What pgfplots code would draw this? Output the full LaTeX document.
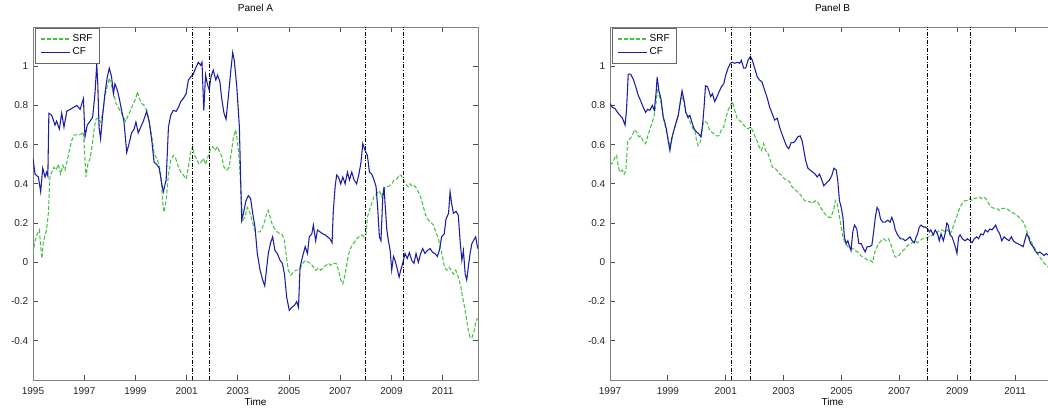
\documentclass[border=0pt]{standalone}
\usepackage{pgfplots}
\pgfplotsset{compat=1.18}
\usepackage{pgfplotstable}
\usepackage{fontspec}
\setmainfont{Liberation Sans}
\definecolor{srfgreen}{RGB}{70,195,70}
\definecolor{cfblue}{RGB}{28,28,165}

\pgfplotstableread{
x y
1995.00 0.53
1995.08 0.45
1995.21 0.435
1995.30 0.36
1995.38 0.48
1995.47 0.435
1995.53 0.46
1995.58 0.44
1995.62 0.76
1995.73 0.75
1995.86 0.70
1995.92 0.72
1996.03 0.68
1996.12 0.76
1996.21 0.69
1996.32 0.77
1996.45 0.78
1996.58 0.79
1996.71 0.80
1996.84 0.78
1996.97 0.835
1997.03 0.64
1997.12 0.70
1997.23 0.72
1997.33 0.74
1997.42 0.86
1997.49 1.01
1997.53 0.91
1997.58 0.69
1997.64 0.63
1997.72 0.75
1997.81 0.86
1997.90 0.945
1997.98 0.99
1998.07 0.945
1998.14 0.86
1998.20 0.91
1998.29 0.88
1998.37 0.835
1998.46 0.775
1998.55 0.72
1998.66 0.56
1998.76 0.61
1998.85 0.66
1998.95 0.68
1999.02 0.715
1999.11 0.66
1999.21 0.69
1999.31 0.72
1999.44 0.77
1999.54 0.715
1999.64 0.62
1999.73 0.51
1999.83 0.50
1999.93 0.48
2000.03 0.40
2000.09 0.36
2000.20 0.42
2000.29 0.69
2000.38 0.75
2000.48 0.775
2000.59 0.77
2000.68 0.79
2000.77 0.82
2000.87 0.835
2000.98 0.86
2001.07 0.93
2001.16 0.945
2001.26 0.96
2001.35 0.99
2001.46 1.02
2001.55 1.005
2001.60 1.02
2001.67 0.775
2001.74 0.955
2001.81 0.91
2001.88 0.88
2001.95 0.945
2002.04 0.98
2002.14 0.93
2002.21 0.955
2002.30 0.92
2002.37 0.835
2002.46 0.76
2002.54 0.73
2002.63 0.845
2002.72 0.97
2002.80 1.07
2002.86 1.03
2002.96 0.895
2003.06 0.69
2003.15 0.215
2003.22 0.25
2003.32 0.315
2003.41 0.34
2003.50 0.325
2003.58 0.25
2003.67 0.18
2003.76 0.045
2003.87 -0.04
2003.97 -0.09
2004.05 -0.12
2004.13 -0.025
2004.19 0.045
2004.28 0.10
2004.36 0.13
2004.45 0.06
2004.54 0.045
2004.65 0.01
2004.74 -0.005
2004.82 -0.06
2004.91 -0.18
2005.01 -0.245
2005.10 -0.23
2005.21 -0.22
2005.30 -0.20
2005.37 -0.23
2005.43 -0.025
2005.53 0.03
2005.63 0.08
2005.72 0.045
2005.79 0.13
2005.89 0.145
2005.95 0.19
2006.04 0.11
2006.11 0.165
2006.21 0.155
2006.32 0.145
2006.41 0.14
2006.50 0.13
2006.60 0.12
2006.68 0.10
2006.73 0.265
2006.80 0.385
2006.86 0.445
2006.93 0.435
2007.02 0.40
2007.10 0.435
2007.19 0.40
2007.28 0.46
2007.36 0.42
2007.45 0.46
2007.54 0.42
2007.64 0.40
2007.73 0.45
2007.81 0.51
2007.88 0.605
2007.97 0.57
2008.06 0.545
2008.14 0.46
2008.23 0.45
2008.32 0.42
2008.40 0.385
2008.46 0.28
2008.53 0.13
2008.59 0.11
2008.66 0.33
2008.71 0.385
2008.76 0.28
2008.82 0.165
2008.88 0.11
2008.95 0.06
2009.01 -0.04
2009.08 0.03
2009.14 0.01
2009.21 -0.025
2009.30 -0.075
2009.36 -0.04
2009.44 -0.005
2009.53 0.045
2009.62 0.02
2009.70 0.05
2009.79 0.01
2009.88 -0.005
2009.96 0.045
2010.05 0.00
2010.14 0.045
2010.22 0.07
2010.31 0.045
2010.40 0.06
2010.51 0.07
2010.61 0.05
2010.70 0.045
2010.79 0.03
2010.87 0.06
2010.96 0.13
2011.06 0.145
2011.13 0.22
2011.23 0.25
2011.29 0.36
2011.35 0.30
2011.42 0.25
2011.52 0.26
2011.61 0.24
2011.68 0.11
2011.75 0.01
2011.81 0.06
2011.88 -0.06
2011.94 -0.09
2012.00 -0.025
2012.07 0.045
2012.14 0.095
2012.20 0.11
2012.29 0.13
2012.37 0.07
}\cfA

\pgfplotstableread{
x y
1995.00 0.045
1995.08 0.11
1995.17 0.145
1995.25 0.165
1995.30 0.08
1995.35 0.02
1995.40 0.10
1995.47 0.14
1995.53 0.165
1995.60 0.25
1995.66 0.435
1995.73 0.46
1995.82 0.485
1995.90 0.47
1995.99 0.50
1996.08 0.45
1996.16 0.495
1996.25 0.47
1996.34 0.52
1996.42 0.57
1996.51 0.62
1996.60 0.65
1996.71 0.65
1996.81 0.65
1996.90 0.655
1996.97 0.665
1997.01 0.57
1997.07 0.435
1997.14 0.50
1997.23 0.53
1997.32 0.605
1997.40 0.69
1997.46 0.73
1997.55 0.735
1997.64 0.715
1997.72 0.76
1997.81 0.845
1997.90 0.90
1997.98 0.94
1998.07 0.90
1998.16 0.86
1998.24 0.81
1998.33 0.79
1998.42 0.77
1998.53 0.74
1998.62 0.72
1998.72 0.75
1998.81 0.775
1998.92 0.81
1999.01 0.835
1999.08 0.87
1999.15 0.835
1999.25 0.81
1999.34 0.80
1999.44 0.775
1999.53 0.725
1999.64 0.64
1999.73 0.555
1999.83 0.53
1999.92 0.50
2000.00 0.435
2000.07 0.30
2000.12 0.255
2000.20 0.315
2000.29 0.45
2000.38 0.52
2000.48 0.545
2000.57 0.53
2000.66 0.495
2000.77 0.46
2000.87 0.445
2000.98 0.425
2001.07 0.485
2001.16 0.565
2001.24 0.59
2001.30 0.545
2001.39 0.53
2001.48 0.50
2001.56 0.51
2001.65 0.53
2001.74 0.50
2001.85 0.545
2001.94 0.58
2002.02 0.59
2002.11 0.57
2002.20 0.59
2002.28 0.565
2002.37 0.54
2002.46 0.485
2002.57 0.47
2002.66 0.485
2002.74 0.555
2002.83 0.64
2002.92 0.675
2002.98 0.62
2003.06 0.52
2003.13 0.335
2003.19 0.215
2003.28 0.23
2003.37 0.28
2003.48 0.25
2003.58 0.20
2003.67 0.16
2003.76 0.155
2003.87 0.155
2003.97 0.18
2004.06 0.215
2004.13 0.25
2004.19 0.265
2004.26 0.23
2004.35 0.19
2004.45 0.17
2004.54 0.155
2004.65 0.145
2004.74 0.14
2004.82 0.11
2004.88 0.045
2004.97 -0.04
2005.07 -0.065
2005.17 -0.05
2005.27 -0.04
2005.37 -0.04
2005.46 -0.025
2005.56 0.00
2005.65 0.01
2005.76 0.00
2005.85 -0.005
2005.95 -0.025
2006.04 -0.04
2006.15 -0.03
2006.24 -0.04
2006.34 -0.025
2006.45 -0.015
2006.54 -0.005
2006.63 -0.015
2006.73 -0.005
2006.84 -0.005
2006.93 -0.04
2007.02 -0.09
2007.10 -0.11
2007.19 -0.06
2007.28 0.01
2007.36 0.06
2007.45 0.085
2007.54 0.10
2007.64 0.12
2007.73 0.13
2007.84 0.14
2007.93 0.13
2008.01 0.145
2008.06 0.23
2008.14 0.265
2008.23 0.30
2008.32 0.335
2008.42 0.35
2008.53 0.365
2008.62 0.335
2008.71 0.375
2008.82 0.385
2008.92 0.39
2009.01 0.40
2009.10 0.42
2009.21 0.425
2009.30 0.445
2009.38 0.445
2009.47 0.42
2009.56 0.40
2009.65 0.385
2009.73 0.40
2009.82 0.385
2009.91 0.39
2009.99 0.375
2010.08 0.35
2010.16 0.325
2010.25 0.28
2010.34 0.24
2010.44 0.215
2010.53 0.205
2010.64 0.19
2010.73 0.155
2010.81 0.13
2010.90 0.085
2010.99 0.03
2011.07 -0.025
2011.16 -0.04
2011.25 -0.025
2011.33 -0.04
2011.42 -0.06
2011.51 -0.04
2011.61 -0.075
2011.71 -0.125
2011.78 -0.18
2011.86 -0.23
2011.94 -0.295
2012.00 -0.345
2012.07 -0.385
2012.14 -0.385
2012.24 -0.345
2012.29 -0.305
2012.36 -0.285
}\srfA

\pgfplotstableread{
x y
1997.00 0.81
1997.08 0.79
1997.17 0.785
1997.26 0.765
1997.34 0.75
1997.43 0.735
1997.52 0.70
1997.57 0.775
1997.63 0.96
1997.71 0.96
1997.80 0.935
1997.89 0.895
1997.98 0.85
1998.07 0.82
1998.15 0.79
1998.23 0.765
1998.30 0.78
1998.38 0.775
1998.46 0.80
1998.53 0.775
1998.59 0.86
1998.63 0.945
1998.69 0.875
1998.76 0.835
1998.84 0.74
1998.90 0.71
1998.95 0.68
1999.01 0.62
1999.07 0.57
1999.13 0.63
1999.21 0.675
1999.28 0.71
1999.36 0.75
1999.43 0.82
1999.49 0.875
1999.56 0.825
1999.62 0.765
1999.70 0.74
1999.76 0.75
1999.84 0.71
1999.91 0.68
1999.99 0.665
2000.07 0.655
2000.14 0.64
2000.20 0.70
2000.25 0.79
2000.30 0.90
2000.37 0.895
2000.43 0.87
2000.48 0.845
2000.54 0.86
2000.62 0.82
2000.70 0.845
2000.77 0.87
2000.85 0.895
2000.93 0.91
2001.00 0.955
2001.08 0.99
2001.16 1.015
2001.23 1.02
2001.31 1.015
2001.40 1.02
2001.48 1.015
2001.54 1.03
2001.62 0.99
2001.69 0.99
2001.77 1.03
2001.85 1.05
2001.92 1.03
2002.00 0.99
2002.09 0.945
2002.17 0.93
2002.25 0.92
2002.34 0.88
2002.44 0.835
2002.52 0.79
2002.60 0.76
2002.69 0.725
2002.78 0.735
2002.86 0.69
2002.94 0.655
2003.03 0.62
2003.11 0.59
2003.18 0.58
2003.26 0.61
2003.34 0.61
2003.41 0.62
2003.49 0.64
2003.57 0.645
2003.64 0.62
2003.70 0.57
2003.76 0.52
2003.84 0.48
2003.92 0.47
2004.01 0.46
2004.09 0.45
2004.16 0.435
2004.24 0.45
2004.32 0.42
2004.39 0.39
2004.51 0.41
2004.59 0.42
2004.67 0.445
2004.74 0.48
2004.82 0.47
2004.87 0.42
2004.93 0.315
2004.99 0.28
2005.05 0.23
2005.10 0.13
2005.16 0.095
2005.22 0.11
2005.28 0.08
2005.33 0.06
2005.39 0.155
2005.45 0.19
2005.53 0.17
2005.60 0.095
2005.68 0.095
2005.76 0.07
2005.82 0.053
2005.89 0.08
2005.97 0.08
2006.05 0.087
2006.12 0.165
2006.17 0.23
2006.23 0.28
2006.29 0.265
2006.35 0.22
2006.43 0.205
2006.51 0.205
2006.60 0.215
2006.68 0.205
2006.74 0.23
2006.81 0.20
2006.86 0.165
2006.94 0.14
2007.04 0.12
2007.12 0.12
2007.20 0.11
2007.29 0.12
2007.37 0.13
2007.44 0.11
2007.52 0.10
2007.58 0.13
2007.63 0.145
2007.69 0.18
2007.75 0.19
2007.83 0.18
2007.90 0.18
2007.98 0.17
2008.04 0.155
2008.09 0.165
2008.17 0.14
2008.24 0.165
2008.32 0.145
2008.38 0.11
2008.44 0.145
2008.52 0.11
2008.58 0.145
2008.64 0.20
2008.69 0.19
2008.75 0.14
2008.82 0.13
2008.90 0.095
2008.95 0.07
2008.99 0.045
2009.05 0.13
2009.10 0.14
2009.18 0.12
2009.27 0.11
2009.36 0.12
2009.44 0.11
2009.51 0.10
2009.59 0.12
2009.67 0.13
2009.74 0.12
2009.82 0.145
2009.90 0.14
2009.97 0.165
2010.05 0.155
2010.13 0.17
2010.20 0.165
2010.28 0.18
2010.33 0.19
2010.39 0.165
2010.47 0.145
2010.54 0.11
2010.62 0.13
2010.70 0.12
2010.79 0.11
2010.87 0.13
2010.94 0.11
2011.02 0.10
2011.10 0.095
2011.20 0.087
2011.28 0.08
2011.35 0.12
2011.40 0.145
2011.46 0.13
2011.54 0.095
2011.62 0.08
2011.69 0.06
2011.77 0.045
2011.85 0.053
2011.92 0.045
2012.00 0.035
2012.08 0.045
2012.20 0.03
2012.37 0.02
}\cfB

\pgfplotstableread{
x y
1997.00 0.495
1997.08 0.505
1997.17 0.535
1997.23 0.545
1997.29 0.485
1997.34 0.46
1997.43 0.47
1997.49 0.45
1997.55 0.47
1997.61 0.62
1997.69 0.63
1997.77 0.645
1997.84 0.675
1997.92 0.665
1998.00 0.64
1998.07 0.645
1998.15 0.615
1998.23 0.605
1998.30 0.64
1998.38 0.68
1998.46 0.715
1998.53 0.75
1998.59 0.81
1998.64 0.875
1998.70 0.85
1998.76 0.82
1998.84 0.74
1998.90 0.70
1998.95 0.665
1999.01 0.63
1999.07 0.59
1999.13 0.62
1999.21 0.675
1999.28 0.71
1999.36 0.75
1999.43 0.81
1999.49 0.85
1999.56 0.81
1999.62 0.76
1999.70 0.735
1999.79 0.71
1999.87 0.68
1999.93 0.675
1999.99 0.62
2000.05 0.595
2000.10 0.605
2000.16 0.64
2000.22 0.715
2000.28 0.72
2000.36 0.71
2000.43 0.68
2000.51 0.665
2000.59 0.655
2000.68 0.645
2000.76 0.645
2000.85 0.675
2000.93 0.69
2001.00 0.735
2001.08 0.775
2001.16 0.80
2001.23 0.82
2001.31 0.775
2001.39 0.735
2001.46 0.725
2001.54 0.715
2001.62 0.70
2001.69 0.69
2001.77 0.68
2001.85 0.69
2001.92 0.675
2002.00 0.645
2002.08 0.62
2002.15 0.59
2002.23 0.57
2002.31 0.605
2002.38 0.57
2002.46 0.555
2002.54 0.52
2002.61 0.485
2002.69 0.48
2002.77 0.47
2002.86 0.45
2002.94 0.445
2003.03 0.425
2003.11 0.42
2003.21 0.41
2003.29 0.385
2003.38 0.375
2003.47 0.36
2003.55 0.35
2003.63 0.335
2003.72 0.315
2003.80 0.31
2003.90 0.31
2003.98 0.30
2004.05 0.31
2004.13 0.315
2004.21 0.30
2004.30 0.275
2004.39 0.255
2004.47 0.24
2004.55 0.23
2004.64 0.23
2004.74 0.275
2004.79 0.315
2004.85 0.30
2004.91 0.25
2004.99 0.18
2005.05 0.13
2005.13 0.095
2005.22 0.08
2005.31 0.07
2005.39 0.07
2005.47 0.06
2005.56 0.053
2005.66 0.035
2005.74 0.027
2005.82 0.02
2005.91 0.01
2006.00 0.01
2006.08 0.00
2006.14 0.045
2006.20 0.07
2006.28 0.095
2006.37 0.11
2006.46 0.12
2006.54 0.11
2006.62 0.12
2006.69 0.10
2006.77 0.06
2006.85 0.027
2006.94 0.027
2007.04 0.045
2007.12 0.06
2007.21 0.07
2007.29 0.087
2007.38 0.095
2007.46 0.10
2007.54 0.11
2007.63 0.10
2007.71 0.11
2007.80 0.12
2007.89 0.12
2007.98 0.13
2008.07 0.13
2008.15 0.14
2008.24 0.145
2008.32 0.155
2008.41 0.165
2008.49 0.165
2008.58 0.155
2008.67 0.165
2008.75 0.145
2008.82 0.165
2008.90 0.20
2008.98 0.23
2009.05 0.265
2009.13 0.29
2009.21 0.31
2009.28 0.315
2009.36 0.315
2009.44 0.325
2009.51 0.315
2009.59 0.325
2009.67 0.328
2009.76 0.333
2009.84 0.325
2009.91 0.333
2009.99 0.325
2010.05 0.31
2010.13 0.29
2010.20 0.28
2010.28 0.275
2010.37 0.275
2010.45 0.265
2010.53 0.275
2010.62 0.275
2010.70 0.275
2010.79 0.265
2010.87 0.255
2010.97 0.25
2011.06 0.24
2011.14 0.23
2011.22 0.215
2011.31 0.20
2011.39 0.165
2011.46 0.14
2011.54 0.11
2011.62 0.087
2011.69 0.07
2011.77 0.045
2011.85 0.027
2011.94 0.01
2012.02 -0.007
2012.09 -0.015
2012.25 -0.04
2012.37 -0.05
}\srfB

\pgfplotsset{
  panel/.style={
    scale only axis, width=333.75pt, height=264.75pt,
    anchor=south west,
    ymin=-0.6, ymax=1.2, xmax=2012.38,
    ytick={-0.4,-0.2,0,0.2,0.4,0.6,0.8,1},
    yticklabels={-0.4,-0.2,0,0.2,0.4,0.6,0.8,1},
    axis line style={black!50, line width=0.6pt},
    major tick style={black!70, line width=0.6pt},
    major tick length=3.75pt,
    tick align=inside,
    tick label style={font=\fontsize{7.5}{9}\selectfont, text=black!85},
    xticklabel style={yshift=-2pt},
    title style={at={(axis description cs:0.5,1)}, anchor=center, yshift=8.6pt, font=\fontsize{7.5}{9}\selectfont},
    xlabel style={at={(axis description cs:0.5,0)}, anchor=center, yshift=-16.5pt, font=\fontsize{7.5}{9}\selectfont},
    xlabel={Time},
    legend cell align=left,
    legend style={at={(axis description cs:0,1)}, anchor=north west, xshift=1.5pt, yshift=-0.75pt,
      draw=black!60, fill=white, inner xsep=4pt, inner ysep=3.5pt, row sep=0.8pt,
      font=\fontsize{7.5}{8.5}\selectfont, nodes={inner sep=1.2pt}},
    legend image code/.code={\draw[#1] (0pt,0pt) -- (22pt,0pt);},
  },
  srf/.style={srfgreen, line width=0.8pt, dash pattern=on 3pt off 1.5pt},
  cf/.style={cfblue, line width=0.8pt},
  rec/.style={black, line width=0.75pt, dash pattern=on 3pt off 1.2pt on 0.75pt off 1.2pt, forget plot},
}

\begin{document}
\begin{tikzpicture}
\begin{axis}[panel, at={(24.75pt,20.25pt)},
  xmin=1995,
  xtick={1995,1997,1999,2001,2003,2005,2007,2009,2011},
  xticklabels={1995,1997,1999,2001,2003,2005,2007,2009,2011},
  title={Panel A}]
\addplot[srf] table[x=x,y=y] {\srfA};
\addlegendentry{SRF}
\addplot[cf] table[x=x,y=y] {\cfA};
\addlegendentry{CF}
\addplot[rec] coordinates {(2001.24,-0.6) (2001.24,1.2)};
\addplot[rec] coordinates {(2001.90,-0.6) (2001.90,1.2)};
\addplot[rec] coordinates {(2008.00,-0.6) (2008.00,1.2)};
\addplot[rec] coordinates {(2009.48,-0.6) (2009.48,1.2)};
\end{axis}

\begin{axis}[panel, at={(457.5pt,20.25pt)},
  xmin=1997,
  xtick={1997,1999,2001,2003,2005,2007,2009,2011},
  xticklabels={1997,1999,2001,2003,2005,2007,2009,2011},
  title={Panel B}]
\addplot[srf] table[x=x,y=y] {\srfB};
\addlegendentry{SRF}
\addplot[cf] table[x=x,y=y] {\cfB};
\addlegendentry{CF}
\addplot[rec] coordinates {(2001.21,-0.6) (2001.21,1.2)};
\addplot[rec] coordinates {(2001.87,-0.6) (2001.87,1.2)};
\addplot[rec] coordinates {(2007.97,-0.6) (2007.97,1.2)};
\addplot[rec] coordinates {(2009.47,-0.6) (2009.47,1.2)};
\end{axis}
\pgfresetboundingbox
\path[use as bounding box] (0,0) rectangle (786pt,305.25pt);
\end{tikzpicture}
\end{document}
